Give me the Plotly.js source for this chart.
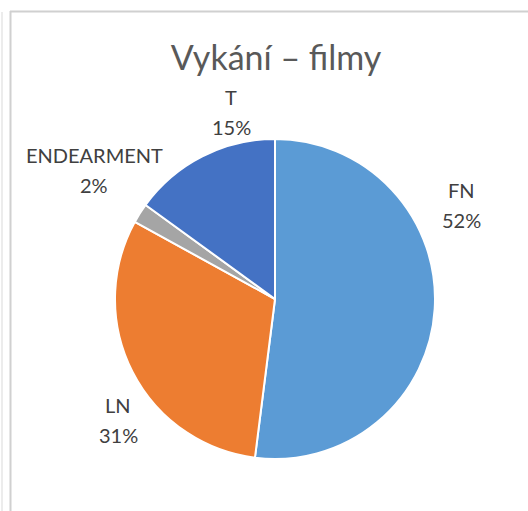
<!DOCTYPE html>
<html>
  <head>
    <meta charset="utf-8" />
    <title>Vykání – filmy</title>
    <style>
      html, body {
        margin: 0;
        background-color: #FFFFFF;
      }
      #chart {
        width: 528px;
        height: 511px;
      }
    </style>
    <script src="https://cdn.plot.ly/plotly-3.0.1.min.js"></script>
  </head>
  <body>
    <div id="chart"></div>
    <script>
      // values (percent)
      var categories = ['FN', 'LN', 'ENDEARMENT', 'T'];
      var shares = [52, 31, 2, 15];
      var sliceColors = ['#5B9BD5', '#ED7D31', '#A5A5A5', '#4472C4'];

      var W = 528, H = 511;
      // pie centre and radius in pixels
      var cx = 275, cy = 299, r = 160;
      // Excel's "best fit" nudges for the outside labels: [angle shift in degrees, distance from centre]
      var labelNudge = [[-30.3, 209], [-10.6, 198], [3.1, 222], [13.8, 192]];
      var labelFont = {family: 'Lato, sans-serif', size: 20, color: '#404040'};

      var sets = [{
        type: 'pie',
        labels: categories,
        values: shares,
        sort: false,
        direction: 'clockwise',
        rotation: 0,
        marker: {
          colors: sliceColors,
          line: {color: '#FFFFFF', width: 2}
        },
        textinfo: 'none',
        hoverinfo: 'label+percent',
        domain: {
          x: [(cx - r) / W, (cx + r) / W],
          y: [(H - cy - r) / H, (H - cy + r) / H]
        }
      }];

      // labels placed outside the slices, near the bisector of each slice
      var total = shares.reduce(function (a, b) { return a + b; }, 0);
      var annotations = [];
      var acc = 0;
      for (var i = 0; i < shares.length; i++) {
        var mid = (acc + shares[i] / 2) / total * 360 + labelNudge[i][0];
        acc += shares[i];
        var rad = mid * Math.PI / 180;
        var lx = cx + labelNudge[i][1] * Math.sin(rad);
        var ly = cy - labelNudge[i][1] * Math.cos(rad);
        var lines = [categories[i], Math.round(shares[i] / total * 100) + '%'];
        for (var j = 0; j < 2; j++) {
          annotations.push({
            xref: 'paper', yref: 'paper',
            x: lx / W, y: 1 - (ly + (j == 0 ? -15 : 15)) / H,
            xanchor: 'center', yanchor: 'middle',
            showarrow: false,
            text: lines[j],
            font: labelFont
          });
        }
      }

      var options = {
        width: W,
        height: H,
        margin: {l: 0, r: 0, t: 0, b: 0},
        paper_bgcolor: '#FFFFFF',
        showlegend: false,
        title: {
          text: 'Vykání – filmy',
          font: {family: 'Lato, sans-serif', size: 34, color: '#595959'},
          x: 276 / W, xanchor: 'center',
          y: 1 - 58 / H, yanchor: 'middle'
        },
        annotations: annotations,
        shapes: [
          {type: 'line', xref: 'paper', yref: 'paper', x0: 2 / W, x1: 2 / W, y0: 1 - 12 / H, y1: 0,
            line: {color: '#D9D9D9', width: 1}},
          {type: 'line', xref: 'paper', yref: 'paper', x0: 10.5 / W, x1: 10.5 / W, y0: 1 - 11 / H, y1: 0,
            line: {color: '#D0D0D0', width: 2}},
          {type: 'line', xref: 'paper', yref: 'paper', x0: 10 / W, x1: 1, y0: 1 - 11.5 / H, y1: 1 - 11.5 / H,
            line: {color: '#D0D0D0', width: 2}}
        ]
      };

      Plotly.newPlot('chart', sets, options, {displayModeBar: false});
    </script>
  </body>
</html>
